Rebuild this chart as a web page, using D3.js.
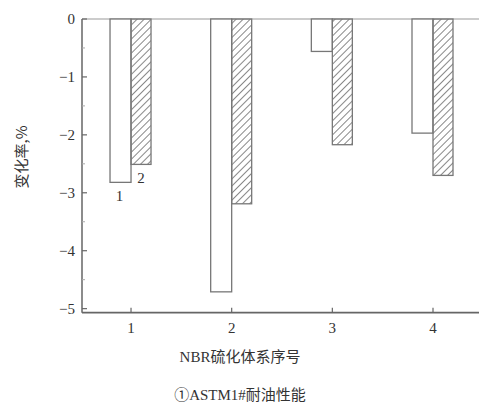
<!DOCTYPE html>
<html>
<head>
<meta charset="utf-8">
<script src="https://cdn.jsdelivr.net/npm/d3@7"></script>
<style>
  body { margin: 0; background: #fff; }
  text { font-family: "Liberation Serif", "Noto Sans CJK SC", serif; fill: #333; }
</style>
</head>
<body>
<div id="chart"></div>
<script>
// data
var systems = [1, 2, 3, 4];
var series1 = [-2.82, -4.71, -0.56, -1.97];   // white bars
var series2 = [-2.51, -3.19, -2.17, -2.70];   // hatched bars
var yTicks = [0, -1, -2, -3, -4, -5];
var yMinor = [-0.5, -1.5, -2.5, -3.5, -4.5];

var W = 479, H = 408;
var plotLeft = 82, plotTop = 19, plotBottom = 312.7, plotRight = 479;

var svg = d3.select("#chart").append("svg")
    .attr("width", W)
    .attr("height", H);

// hatch pattern
var defs = svg.append("defs");
defs.append("pattern")
    .attr("id", "hatch")
    .attr("patternUnits", "userSpaceOnUse")
    .attr("width", 5)
    .attr("height", 5)
    .attr("patternTransform", "rotate(45)")
  .append("line")
    .attr("x1", 0).attr("y1", 0)
    .attr("x2", 0).attr("y2", 5)
    .attr("stroke", "#888")
    .attr("stroke-width", 2);

var x = d3.scaleLinear().domain([0.513, 4.457]).range([plotLeft, plotRight]);
var y = d3.scaleLinear().domain([-5.07, 0]).range([plotBottom, plotTop]);
var bw = 21;

// top frame line
svg.append("line")
    .attr("x1", plotLeft).attr("x2", plotRight)
    .attr("y1", y(0)).attr("y2", y(0))
    .attr("stroke", "#bbb")
    .attr("stroke-width", 1.5);

// white bars
svg.selectAll(".b1").data(systems).enter().append("rect")
    .attr("class", "b1")
    .attr("x", function (d) { return x(d) - bw; })
    .attr("y", y(0))
    .attr("width", bw)
    .attr("height", function (d, i) { return y(series1[i]) - y(0); })
    .attr("fill", "#fff")
    .attr("stroke", "#777")
    .attr("stroke-width", 1.3);

// hatched bars
svg.selectAll(".b2").data(systems).enter().append("rect")
    .attr("class", "b2")
    .attr("x", function (d) { return x(d); })
    .attr("y", y(0))
    .attr("width", bw - 1)
    .attr("height", function (d, i) { return y(series2[i]) - y(0); })
    .attr("fill", "url(#hatch)")
    .attr("stroke", "#777")
    .attr("stroke-width", 1.3);

// y axis
var yAxis = svg.append("g").attr("transform", "translate(" + plotLeft + ",0)");
yAxis.append("line")
    .attr("x1", 0).attr("x2", 0)
    .attr("y1", plotTop).attr("y2", plotBottom)
    .attr("stroke", "#666").attr("stroke-width", 1.5);
yAxis.selectAll(".ymaj").data(yTicks).enter().append("line")
    .attr("x1", 0).attr("x2", 5)
    .attr("y1", function (d) { return y(d); })
    .attr("y2", function (d) { return y(d); })
    .attr("stroke", "#666").attr("stroke-width", 1.2);
yAxis.selectAll(".ymin").data(yMinor).enter().append("line")
    .attr("x1", 0).attr("x2", 3)
    .attr("y1", function (d) { return y(d); })
    .attr("y2", function (d) { return y(d); })
    .attr("stroke", "#aaa").attr("stroke-width", 1);
yAxis.selectAll(".ylab").data(yTicks).enter().append("text")
    .attr("x", -7)
    .attr("y", function (d) { return y(d); })
    .attr("dy", "0.35em")
    .attr("text-anchor", "end")
    .attr("font-size", 15)
    .text(function (d) { return d === 0 ? "0" : "\u2212" + Math.abs(d); });

// x axis
var xAxis = svg.append("g").attr("transform", "translate(0," + plotBottom + ")");
xAxis.append("line")
    .attr("x1", plotLeft).attr("x2", plotRight)
    .attr("y1", 0).attr("y2", 0)
    .attr("stroke", "#666").attr("stroke-width", 1.8);
xAxis.selectAll(".xt").data(systems).enter().append("line")
    .attr("x1", function (d) { return x(d); })
    .attr("x2", function (d) { return x(d); })
    .attr("y1", 0).attr("y2", -5)
    .attr("stroke", "#666").attr("stroke-width", 1.2);
xAxis.selectAll(".xlab").data(systems).enter().append("text")
    .attr("x", function (d) { return x(d); })
    .attr("y", 20)
    .attr("text-anchor", "middle")
    .attr("font-size", 15)
    .text(function (d) { return d; });

// series labels
svg.append("text")
    .attr("x", x(1) - bw / 2 - 1)
    .attr("y", y(series1[0]) + 19)
    .attr("text-anchor", "middle")
    .attr("font-size", 15)
    .text("1");
svg.append("text")
    .attr("x", x(1) + 10)
    .attr("y", y(series2[0]) + 19)
    .attr("text-anchor", "middle")
    .attr("font-size", 15)
    .text("2");

// axis titles
svg.append("text")
    .attr("transform", "translate(27,157) rotate(-90)")
    .attr("text-anchor", "middle")
    .attr("font-size", 15)
    .style("font-family", "'Noto Sans CJK SC', sans-serif")
    .text("变化率,%");

svg.append("text")
    .attr("x", 240)
    .attr("y", 362)
    .attr("text-anchor", "middle")
    .attr("font-size", 15)
    .text("NBR硫化体系序号");

svg.append("text")
    .attr("x", 240)
    .attr("y", 400)
    .attr("text-anchor", "middle")
    .attr("font-size", 15)
    .text("①ASTM1#耐油性能");
</script>
</body>
</html>
